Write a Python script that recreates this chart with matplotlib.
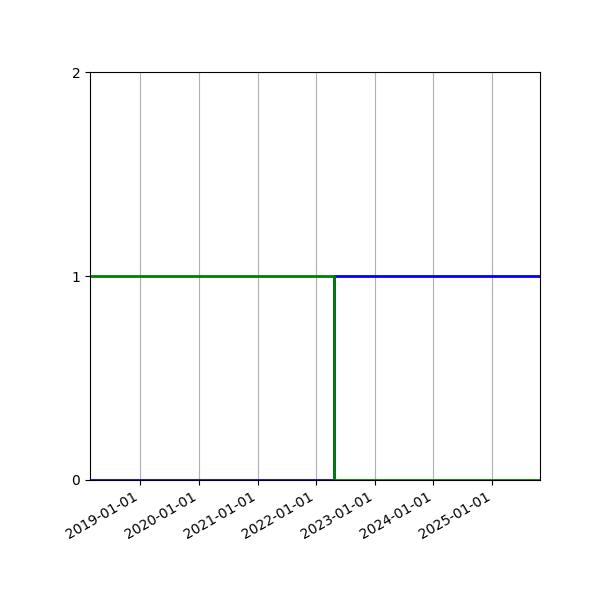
import matplotlib
matplotlib.use("Agg")
import matplotlib.pyplot as plt
import matplotlib.dates as mdates
import numpy as np

# state change dates
dates = np.array(["2018-02-23", "2022-04-22", "2025-10-25"], dtype="datetime64[D]")
new_state = [0, 1, 1]
old_state = [1, 0, 0]

fig, ax = plt.subplots(figsize=(6, 6), dpi=100)
ax.step(dates, new_state, where="post", color="blue", lw=2)
ax.step(dates, old_state, where="post", color="green", lw=2)

ax.set_xlim(dates[0], dates[-1])
ax.set_ylim(0, 2)
ax.set_yticks([0, 1, 2])
ax.xaxis.set_major_locator(mdates.YearLocator())
ax.xaxis.set_major_formatter(mdates.DateFormatter("%Y-%m-%d"))
ax.grid(axis="x")
fig.autofmt_xdate()
fig.subplots_adjust(left=0.15)
fig.savefig("out.png")
